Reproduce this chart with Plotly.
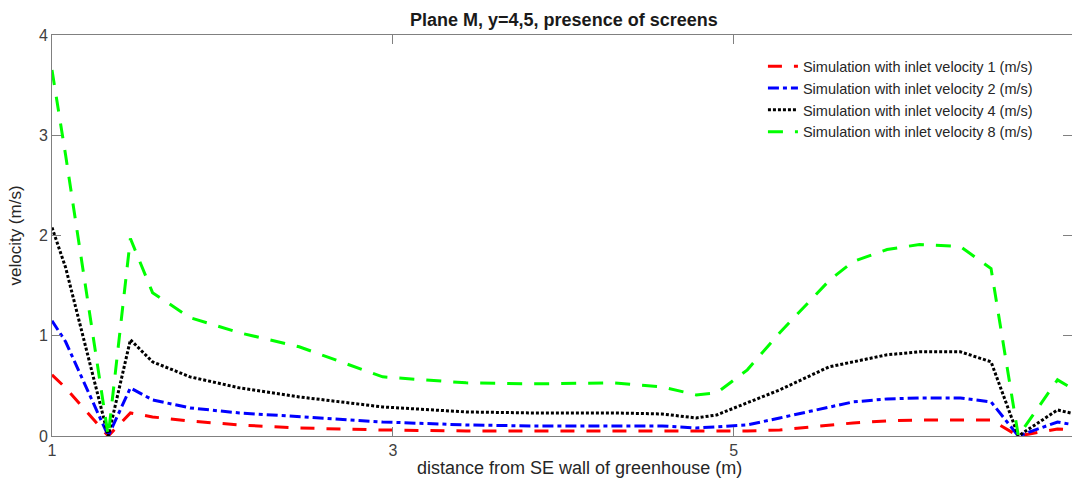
import plotly.graph_objects as go

# distance from SE wall (m)
distance = [1.0, 1.08, 1.33, 1.46, 1.59, 1.81, 2.10, 2.45, 2.94, 3.43, 3.82, 4.29,
            4.58, 4.78, 4.90, 5.08, 5.27, 5.56, 5.70, 5.90, 6.09, 6.33, 6.51, 6.67,
            6.90, 7.0]

# velocity (m/s) for each inlet velocity
v1 = [0.61, 0.48, 0.0, 0.23, 0.19, 0.15, 0.11, 0.08, 0.06, 0.05, 0.05, 0.05,
      0.05, 0.05, 0.05, 0.05, 0.06, 0.11, 0.13, 0.15, 0.16, 0.16, 0.16, 0.0,
      0.07, 0.06]
v2 = [1.15, 0.94, 0.0, 0.48, 0.36, 0.28, 0.23, 0.19, 0.14, 0.11, 0.10, 0.10,
      0.10, 0.08, 0.09, 0.11, 0.18, 0.29, 0.34, 0.37, 0.38, 0.38, 0.34, 0.0,
      0.14, 0.11]
v4 = [2.08, 1.68, 0.0, 0.96, 0.74, 0.59, 0.48, 0.39, 0.29, 0.24, 0.23, 0.23,
      0.22, 0.18, 0.21, 0.33, 0.46, 0.69, 0.74, 0.81, 0.84, 0.84, 0.74, 0.0,
      0.26, 0.22]
v8 = [3.65, 2.80, 0.0, 1.97, 1.43, 1.18, 1.03, 0.89, 0.59, 0.53, 0.52, 0.53,
      0.49, 0.41, 0.43, 0.66, 1.03, 1.55, 1.74, 1.86, 1.91, 1.89, 1.67, 0.0,
      0.56, 0.46]

series = [
    ("Simulation with inlet velocity 1 (m/s)", v1, "#ff0000", "14px,12px"),
    ("Simulation with inlet velocity 2 (m/s)", v2, "#0000ff", "11px,4px,4px,4px"),
    ("Simulation with inlet velocity 4 (m/s)", v4, "#000000", "3px,2px"),
    ("Simulation with inlet velocity 8 (m/s)", v8, "#00ff00", "15px,12px"),
]

fig = go.Figure()
for name, vals, color, dash in series:
    fig.add_trace(go.Scatter(
        x=distance, y=vals, mode="lines", name=name,
        line=dict(color=color, width=3, dash=dash),
    ))

axis_common = dict(
    showgrid=False, zeroline=False, showline=True, linecolor="#808080",
    linewidth=1, mirror="ticks", ticks="inside", ticklen=9,
    tickcolor="#808080", tickfont=dict(size=16, color="#404040"),
)

fig.update_layout(
    width=1072, height=480,
    margin=dict(l=52, r=0, t=35, b=44),
    paper_bgcolor="white", plot_bgcolor="white",
    font=dict(family="Liberation Sans, Arial, sans-serif", color="#262626"),
    title=dict(text="<b>Plane M, y=4,5, presence of screens</b>",
               x=0.526, xanchor="center", y=0.958, yanchor="middle",
               font=dict(size=18, color="#1a1a1a")),
    xaxis=dict(range=[1, 6.985], tickvals=[1, 3, 5, 7], **axis_common),
    yaxis=dict(range=[0, 4], tickvals=[0, 1, 2, 3, 4],
               title=dict(text="velocity (m/s)",
                          font=dict(size=17, color="#262626"), standoff=12),
               **axis_common),
    legend=dict(x=0.697, y=0.962, xanchor="left", yanchor="top",
                bgcolor="rgba(255,255,255,0)", borderwidth=0,
                font=dict(size=14.5, color="#262626"), tracegroupgap=0),
    showlegend=True,
    annotations=[dict(text="distance from SE wall of greenhouse (m)",
                      xref="paper", yref="paper", x=0.517, y=-0.079,
                      xanchor="center", yanchor="middle", showarrow=False,
                      font=dict(size=18, color="#262626"))],
)

fig.write_html("out.html")
